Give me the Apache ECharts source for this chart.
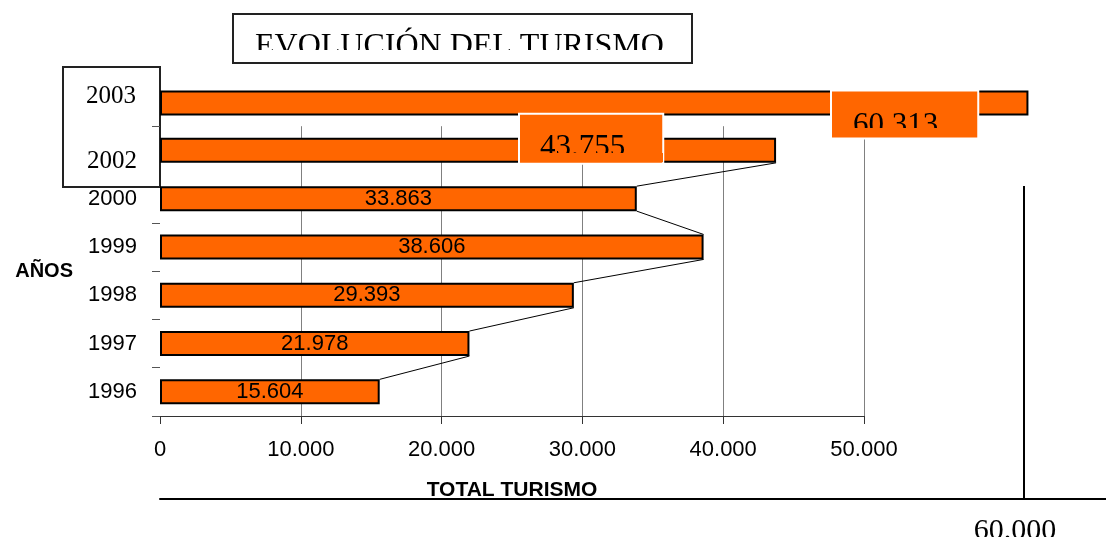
<!DOCTYPE html>
<html>
<head>
<meta charset="utf-8">
<script src="https://cdn.jsdelivr.net/npm/echarts@6/dist/echarts.min.js"></script>
<style>
  html, body { margin: 0; padding: 0; background: #fff; }
  #chart { width: 1106px; height: 537px; }
</style>
</head>
<body>
<div id="chart"></div>
<script>
// datos
const years = ["1996", "1997", "1998", "1999", "2000", "2002"];
const visitors = [15604, 21978, 29393, 38606, 33863, 43755];
const topYears = ["2003"];
const topVisitors = [60313];
const xTicks = [0, 10000, 20000, 30000, 40000, 50000];
const farTick = 60000;

const ORANGE = "#ff6600";
const BAR_W = 25;

const fmt = v => String(v).replace(/\B(?=(\d{3})+(?!\d))/g, ".");

const boxLabel = {
  show: true,
  formatter: p => fmt(p.value),
  fontFamily: "Liberation Serif",
  fontSize: 31,
  color: "#000",
  backgroundColor: ORANGE,
  borderColor: "#fff",
  borderWidth: 2
};

const mainData = visitors.map((v, i) => {
  if (years[i] === "2002") {
    return {
      value: v,
      label: Object.assign({}, boxLabel, {
        position: [360, -23],
        lineHeight: 29,
        padding: [19, 37, 0, 20]
      })
    };
  }
  return v;
});

// series lines between bar ends
const linkData = [];
for (let i = 0; i < visitors.length - 1; i++) {
  linkData.push([visitors[i], i, visitors[i + 1]]);
}

const myChart = echarts.init(document.getElementById("chart"));

myChart.setOption({
  animation: false,
  title: {
    text: "EVOLUCIÓN DEL TURISMO",
    left: 233,
    top: 14,
    padding: [17, 28, 0, 22],
    borderColor: "#222",
    borderWidth: 2,
    textStyle: {
      fontFamily: "Liberation Serif",
      fontSize: 32,
      fontWeight: "normal",
      color: "#000"
    }
  },
  grid: [
    { left: 160, right: 242, top: 126.2, bottom: 121, outerBoundsMode: "none" },
    { left: 160, right: 0, top: 78.9, height: 48.3, outerBoundsMode: "none" },
    { left: 160, right: 0, top: 186, bottom: 38, outerBoundsMode: "none" }
  ],
  xAxis: [
    {
      gridIndex: 0,
      type: "value",
      min: xTicks[0],
      max: xTicks[xTicks.length - 1],
      interval: xTicks[1] - xTicks[0],
      name: "TOTAL TURISMO",
      nameLocation: "middle",
      nameGap: 64,
      nameTextStyle: {
        fontFamily: "Liberation Sans",
        fontWeight: "bold",
        fontSize: 21,
        color: "#000"
      },
      axisLine: { show: true, lineStyle: { color: "#333", width: 1 } },
      axisTick: { show: true, length: 8, lineStyle: { color: "#333" } },
      axisLabel: {
        margin: 23,
        fontFamily: "Liberation Sans",
        fontSize: 22,
        color: "#000",
        formatter: v => fmt(v)
      },
      splitLine: {
        show: true,
        showMinLine: false,
        lineStyle: { color: "#808080", width: 1 }
      }
    },
    {
      gridIndex: 1,
      type: "value",
      min: 0,
      max: 65700,
      show: false
    },
    {
      gridIndex: 2,
      type: "value",
      min: 0,
      max: 65700,
      interval: farTick,
      axisLine: { show: true, lineStyle: { color: "#000", width: 2 } },
      axisTick: { show: false },
      axisLabel: {
        margin: 17,
        formatter: v => (v === farTick ? "{n|" + fmt(v) + "}" : ""),
        rich: {
          n: {
            fontFamily: "Liberation Serif",
            fontSize: 30,
            color: "#000",
            padding: [0, 18, 0, 0]
          }
        }
      },
      splitLine: {
        show: true,
        showMinLine: false,
        showMaxLine: false,
        lineStyle: { color: "#000", width: 2 }
      }
    }
  ],
  yAxis: [
    {
      gridIndex: 0,
      type: "category",
      data: years,
      name: "AÑOS",
      nameLocation: "middle",
      nameRotate: 0,
      nameGap: 87,
      nameTextStyle: {
        fontFamily: "Liberation Sans",
        fontWeight: "bold",
        fontSize: 20,
        color: "#000"
      },
      axisLine: { show: false },
      axisTick: {
        show: true,
        length: 8,
        interval: idx => years[idx] !== "2002",
        lineStyle: { color: "#555" }
      },
      axisLabel: {
        margin: 23,
        fontFamily: "Liberation Sans",
        fontSize: 22,
        color: "#000",
        formatter: v => (v === "2002" ? "{t|" + v + "}" : v),
        rich: {
          t: {
            fontFamily: "Liberation Serif",
            fontSize: 25,
            color: "#000",
            padding: [22, 0, 0, 0]
          }
        }
      }
    },
    {
      gridIndex: 1,
      type: "category",
      data: topYears,
      axisLine: { show: false },
      axisTick: { show: false },
      axisLabel: {
        margin: 24,
        formatter: v => "{t|" + v + "}",
        rich: {
          t: {
            fontFamily: "Liberation Serif",
            fontSize: 25,
            color: "#000",
            padding: [0, 0, 14, 0]
          }
        }
      }
    },
    {
      gridIndex: 2,
      type: "value",
      min: 0,
      max: 1,
      show: false
    }
  ],
  graphic: [
    {
      type: "rect",
      z: -1,
      shape: { x: 63, y: 67, width: 97, height: 120 },
      style: { fill: "#fff", stroke: "#222", lineWidth: 2 }
    },
    {
      type: "rect",
      z: 100,
      shape: { x: 234, y: 50, width: 455, height: 11 },
      style: { fill: "#fff" }
    },
    {
      type: "rect",
      z: 100,
      shape: { x: 521, y: 153, width: 142, height: 9 },
      style: { fill: ORANGE }
    },
    {
      type: "rect",
      z: 100,
      shape: { x: 833, y: 128, width: 142, height: 9 },
      style: { fill: ORANGE }
    }
  ],
  series: [
    {
      type: "bar",
      xAxisIndex: 0,
      yAxisIndex: 0,
      barWidth: BAR_W,
      data: mainData,
      itemStyle: { color: ORANGE, borderColor: "#000", borderWidth: 2 },
      label: {
        show: true,
        position: "inside",
        fontFamily: "Liberation Sans",
        fontSize: 22,
        color: "#000",
        formatter: p => fmt(p.value)
      }
    },
    {
      type: "bar",
      xAxisIndex: 1,
      yAxisIndex: 1,
      barWidth: BAR_W,
      clip: false,
      data: topVisitors,
      itemStyle: { color: ORANGE, borderColor: "#000", borderWidth: 2 },
      label: Object.assign({}, boxLabel, {
        position: [672, 1],
        lineHeight: 23,
        padding: [23, 39, 0, 21]
      })
    },
    {
      type: "custom",
      xAxisIndex: 0,
      yAxisIndex: 0,
      z: 3,
      encode: { x: [0, 2], y: 1 },
      data: linkData,
      renderItem: (params, api) => {
        const i = api.value(1);
        const a = api.coord([api.value(0), i]);
        const b = api.coord([api.value(2), i + 1]);
        return {
          type: "line",
          shape: { x1: a[0], y1: a[1] - BAR_W / 2, x2: b[0], y2: b[1] + BAR_W / 2 },
          style: { stroke: "#000", lineWidth: 1 }
        };
      }
    }
  ]
});
</script>
</body>
</html>
